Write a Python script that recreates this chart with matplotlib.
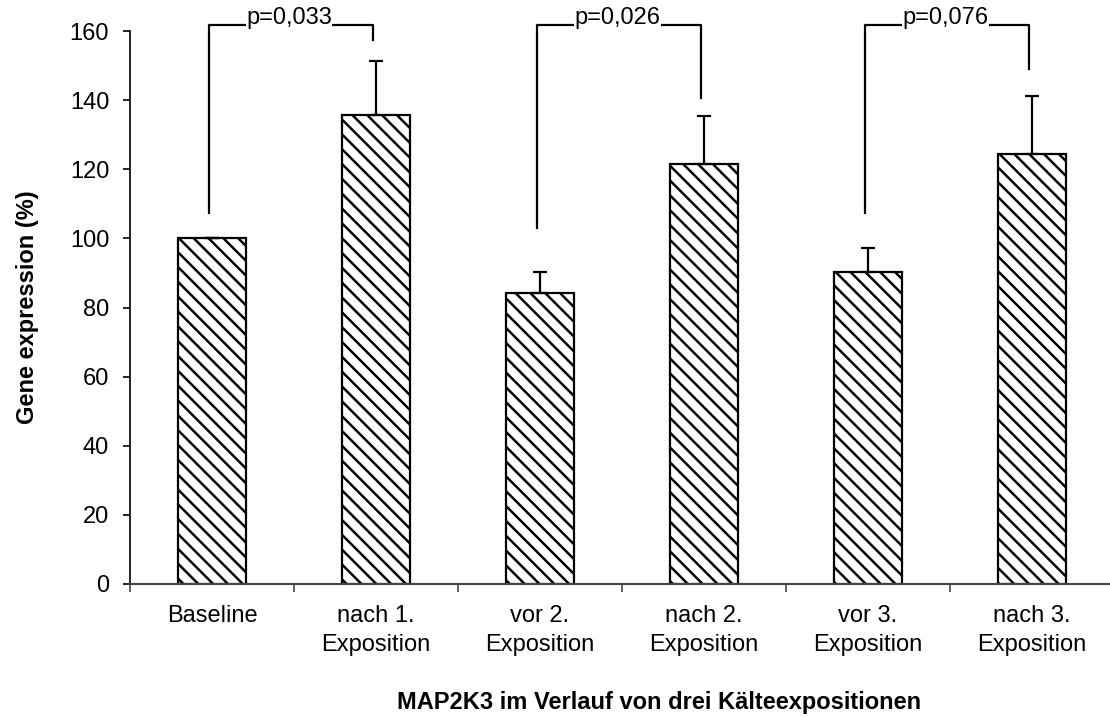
import matplotlib.pyplot as plt
import numpy as np

# draw at 89 dpi so the hatch spacing matches the original; K rescales point sizes
DPI = 89
K = 100 / DPI

plt.rcParams['font.family'] = ['Liberation Sans', 'DejaVu Sans']
plt.rcParams['hatch.linewidth'] = 2.0

categories = ["Baseline", "nach 1.\nExposition", "vor 2.\nExposition",
              "nach 2.\nExposition", "vor 3.\nExposition", "nach 3.\nExposition"]
values = [100, 135.7, 84.2, 121.5, 90.3, 124.4]
errors = [0, 15.6, 6.1, 13.9, 6.9, 16.8]

# significance brackets: (left idx, right idx, left bottom, right bottom, label)
brackets = [(0, 1, 107.3, 157.4, "p=0,033"),
            (2, 3, 103.0, 140.6, "p=0,026"),
            (4, 5, 107.3, 149.0, "p=0,076")]
bracket_top = 161.7

fig = plt.figure(figsize=(1110 / DPI, 717 / DPI), dpi=DPI)
ax = fig.add_axes([130/1110, 1 - 584/717, (1114 - 130)/1110, (584 - 31)/717])

x = np.arange(len(categories))
ax.bar(x, values, width=0.41, color='white', edgecolor='black',
       linewidth=1.6*K, hatch='\\\\', zorder=2)
ax.errorbar(x, values, yerr=[np.zeros(len(errors)), errors], fmt='none',
            ecolor='black', elinewidth=1.6*K, capsize=5*K, capthick=1.6*K, zorder=3)

for i, j, lb, rb, label in brackets:
    xl = x[i] - 0.02
    xr = x[j] - 0.02
    ax.plot([xl, xl, xr, xr], [lb, bracket_top, bracket_top, rb],
            color='black', linewidth=1.6*K, clip_on=False, zorder=3)
    ax.text((xl + xr) / 2 - 0.01, bracket_top + 0.2, label, ha='center', va='baseline',
            fontsize=17*K, zorder=4, clip_on=False,
            bbox=dict(facecolor='white', edgecolor='none', pad=0.3))

ax.set_xlim(-0.5, 5.5)
ax.set_ylim(0, 160)
ax.set_yticks(range(0, 161, 20))
ax.set_xticks(x)
ax.set_xticklabels(categories, fontsize=17*K, linespacing=1.45)
ax.set_xticks(np.arange(-0.5, 6, 1), minor=True)
ax.tick_params(axis='x', which='major', length=0, pad=15*K)
ax.tick_params(axis='x', which='minor', length=6*K, width=1.2*K, direction='out', color='#444444')
ax.tick_params(axis='y', labelsize=17*K, length=5*K, width=1.2*K, direction='out', pad=10*K)

for s in ['top', 'right']:
    ax.spines[s].set_visible(False)
ax.spines['left'].set_linewidth(1.2*K)
ax.spines['bottom'].set_linewidth(1.5*K)
ax.spines['bottom'].set_color('#444444')

ax.set_ylabel("Gene expression (%)", fontsize=17*K, fontweight='bold', labelpad=22*K)
fig.text(659/1110, 1 - 702/717, "MAP2K3 im Verlauf von drei Kälteexpositionen",
         fontsize=17*K, fontweight='bold', ha='center', va='center')

fig.savefig("out.png", dpi=DPI)
